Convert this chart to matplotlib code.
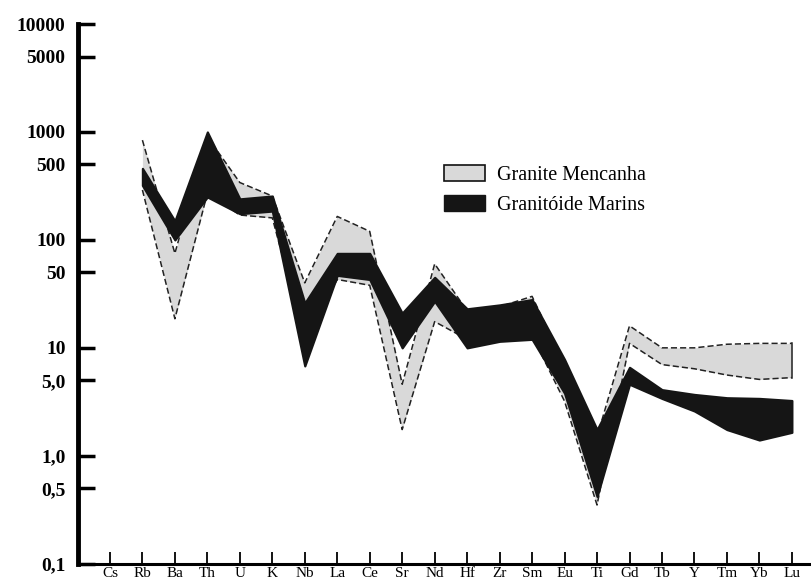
import matplotlib
matplotlib.use("Agg")
import matplotlib.pyplot as plt
from matplotlib.patches import Patch
import numpy as np

plt.rcParams['font.family'] = ['Liberation Serif', 'DejaVu Serif']

# elementos (diagrama multi-elementar normalizado)
elements = ['Cs', 'Rb', 'Ba', 'Th', 'U', 'K', 'Nb', 'La', 'Ce', 'Sr', 'Nd',
            'Hf', 'Zr', 'Sm', 'Eu', 'Ti', 'Gd', 'Tb', 'Y', 'Tm', 'Yb', 'Lu']

# Granito Mencanha (faixa cinza)
grey_hi = [np.nan, 840, 75, 900, 340, 255, 40, 165, 120, 4.6, 60,
           22, 24, 30, 7.0, 1.5, 16, 10, 10, 10.8, 11, 11]
grey_lo = [np.nan, 290, 18.6, 270, 170, 160, 12, 43, 38, 1.75, 17.5,
           12, 12, 13, 3.2, 0.35, 11, 7.0, 6.4, 5.6, 5.1, 5.3]

# Granitoide Marins (faixa preta)
black_hi = [np.nan, 460, 150, 1000, 240, 255, 26, 75, 75, 21, 45,
            23, 25, 28, 7.8, 1.75, 6.6, 4.1, 3.7, 3.45, 3.4, 3.25]
black_lo = [np.nan, 320, 100, 250, 175, 185, 6.8, 47, 43, 10, 27,
            10, 11.5, 12, 3.8, 0.42, 4.6, 3.4, 2.6, 1.75, 1.4, 1.65]

yticks = [0.1, 0.5, 1, 5, 10, 50, 100, 500, 1000, 5000, 10000]
ylabels = ['0,1', '0,5', '1,0', '5,0', '10', '50', '100', '500', '1000', '5000', '10000']

legend_labels = ['Granite Mencanha', 'Granitóide Marins']

x = np.arange(len(elements))

fig = plt.figure(figsize=(8.12, 5.86), dpi=100)
ax = fig.add_axes([0.096, 0.038, 0.904, 0.921])

# faixa cinza com bordas tracejadas
ax.fill_between(x, grey_lo, grey_hi, color='#d9d9d9', linewidth=0, zorder=1)
ax.plot(x, grey_hi, color='#222222', lw=1.1, ls=(0, (4, 2)), zorder=2)
ax.plot(x, grey_lo, color='#222222', lw=1.1, ls=(0, (4, 2)), zorder=2)
ax.plot([x[-1], x[-1]], [grey_lo[-1], grey_hi[-1]], color='#222222', lw=1.1, zorder=2)

# faixa preta
ax.fill_between(x, black_lo, black_hi, color='#151515', linewidth=1.6,
                edgecolor='#151515', zorder=3)

ax.set_yscale('log')
ax.set_ylim(0.1, 10000)
ax.set_xlim(-0.985, 21.62)

ax.set_yticks(yticks)
ax.set_yticklabels(ylabels, fontsize=14, fontweight='bold')
ax.yaxis.set_minor_locator(matplotlib.ticker.NullLocator())
ax.set_xticks(x)
ax.set_xticklabels(elements, fontsize=11)

ax.tick_params(axis='y', direction='in', length=12, width=2.5, pad=9)
ax.tick_params(axis='x', direction='in', length=9, width=1.3, pad=2)

for s in ['top', 'right']:
    ax.spines[s].set_visible(False)
ax.spines['left'].set_linewidth(3.5)
ax.spines['bottom'].set_linewidth(2.2)

handles = [Patch(facecolor='#d9d9d9', edgecolor='#111111', linewidth=1.2),
           Patch(facecolor='#151515', edgecolor='#151515')]
fig.legend(handles, legend_labels, loc='upper left',
           bbox_to_anchor=(0.535, 0.735), frameon=False, fontsize=14.5,
           handlelength=2.0, handleheight=0.8, handletextpad=0.6,
           labelspacing=0.5, borderpad=0)

fig.savefig('out.png', dpi=100)
